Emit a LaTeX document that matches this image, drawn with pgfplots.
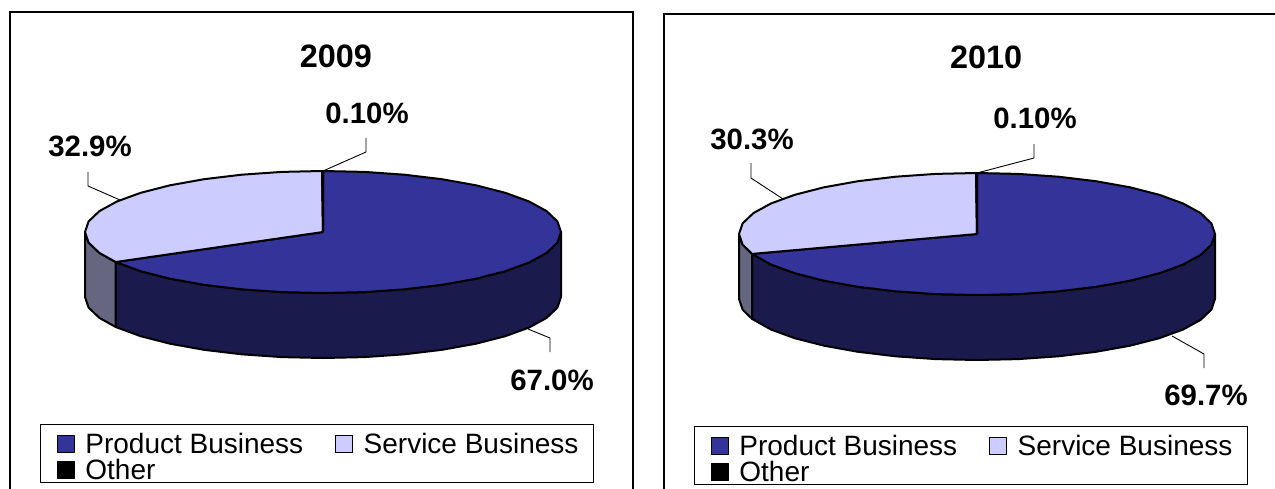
\documentclass[border=0pt]{standalone}
\usepackage{fontspec}
\setmainfont{Liberation Sans}
\usepackage{pgfplots}
\pgfplotsset{compat=1.18}
\definecolor{prod}{HTML}{333399}
\definecolor{serv}{HTML}{CCCCFF}
\definecolor{proddark}{HTML}{1A1A4D}
\definecolor{servdark}{HTML}{666680}
\pgfplotsset{
  pie panel/.style={
    scale only axis, clip=false, y dir=reverse,
    xtick=\empty, ytick=\empty,
    axis line style={black, line width=0.6pt},
    anchor=south west,
    title style={at={(0.523,0.883)}, anchor=center, font=\fontsize{16.2}{16}\selectfont\bfseries},
    legend columns=2,
    legend cell align=left,
    legend style={
      anchor=north west, draw=black, line width=0.5pt,
      inner xsep=7.75pt, inner ysep=1.3pt,
      font=\fontsize{14}{12.5}\selectfont,
      nodes={inner xsep=0pt, inner ysep=0pt, text height=13.2pt, text depth=0pt},
      /tikz/every even column/.append style={column sep=15.5pt},
    },
    legend image code/.code={
      \path (0pt,0pt) (13.7pt,0pt);
      \draw[##1, line width=0.5pt] (0pt,-6.1pt) rectangle (8.7pt,2.6pt);
    },
  },
  slice/.style={draw=black, line width=1pt, line join=round},
  leader/.style={draw=black, line width=0.45pt, forget plot},
}
\newcommand{\lab}{\fontsize{14.7}{15}\selectfont\bfseries}
\begin{document}
\begin{tikzpicture}
\useasboundingbox (0,0) rectangle (637.5pt,244pt);

% 2009
\begin{axis}[pie panel, at={(5pt,-1pt)}, width=311.5pt, height=239pt,
  xmin=-313, xmax=310, ymin=-220, ymax=258, title={2009},
  legend style={at={(axis cs:-283,192)}}]
\addplot[slice, fill=proddark, forget plot] coordinates {
  (238,0) (234.4,10.6) (223.6,20.9) (206.1,30.5) (182.3,39.2) (153,46.7) (119,52.8) (81.4,57.3) (41.3,60.1) (0,61)
  (-41.3,60.1) (-81.4,57.3) (-119,52.8) (-153,46.7) (-182.3,39.2) (-207.3,30)
  (-207.3,95) (-182.3,104.2) (-153,111.7) (-119,117.8) (-81.4,122.3) (-41.3,125.1) (0,126)
  (41.3,125.1) (81.4,122.3) (119,117.8) (153,111.7) (182.3,104.2) (206.1,95.5) (223.6,85.9) (234.4,75.6) (238,65) (238,0)};
\addplot[slice, fill=servdark, forget plot] coordinates {
  (-207.3,30) (-223.6,20.9) (-234.4,10.6) (-238,0) (-238,65) (-234.4,75.6) (-223.6,85.9) (-207.3,95) (-207.3,30)};
\addplot[slice, fill=prod] coordinates {
  (0,0) (0,-61) (41.3,-60.1) (81.4,-57.3) (119,-52.8) (153,-46.7) (182.3,-39.2) (206.1,-30.5) (223.6,-20.9) (234.4,-10.6) (238,0)
  (234.4,10.6) (223.6,20.9) (206.1,30.5) (182.3,39.2) (153,46.7) (119,52.8) (81.4,57.3) (41.3,60.1) (0,61)
  (-41.3,60.1) (-81.4,57.3) (-119,52.8) (-153,46.7) (-182.3,39.2) (-207.3,30) (0,0)};
\addplot[slice, fill=serv] coordinates {
  (0,0) (-207.3,30) (-223.6,20.9) (-234.4,10.6) (-238,0) (-234.4,-10.6) (-223.6,-20.9) (-206.1,-30.5) (-182.3,-39.2)
  (-153,-46.7) (-119,-52.8) (-81.4,-57.3) (-41.3,-60.1) (-1,-61) (0,0)};
\addplot[slice, fill=black] coordinates {(0,0) (-1,-61) (0,-61) (0,0)};
\addplot[leader] coordinates {(0,-61) (43,-80) (43,-94)};
\addplot[leader] coordinates {(-203,-32) (-235,-46) (-235,-60)};
\addplot[leader] coordinates {(205,97) (227,106) (227,120)};
\node[font=\lab] at (axis cs:44,-119) {0.10\%};
\node[font=\lab] at (axis cs:-233,-86) {32.9\%};
\node[font=\lab] at (axis cs:229,148) {67.0\%};
\legend{Product Business, Service Business, Other}
\end{axis}

% 2010
\begin{axis}[pie panel, at={(332pt,-1pt)}, width=308pt, height=238pt,
  xmin=-313, xmax=303, ymin=-220, ymax=256, title={2010},
  legend style={at={(axis cs:-283,192)}}]
\addplot[slice, fill=proddark, forget plot] coordinates {
  (238,0) (234.4,10.6) (223.6,20.9) (206.1,30.5) (182.3,39.2) (153,46.7) (119,52.8) (81.4,57.3) (41.3,60.1) (0,61)
  (-41.3,60.1) (-81.4,57.3) (-119,52.8) (-153,46.7) (-182.3,39.2) (-206.1,30.5) (-224.9,19.9)
  (-224.9,84.9) (-206.1,95.5) (-182.3,104.2) (-153,111.7) (-119,117.8) (-81.4,122.3) (-41.3,125.1) (0,126)
  (41.3,125.1) (81.4,122.3) (119,117.8) (153,111.7) (182.3,104.2) (206.1,95.5) (223.6,85.9) (234.4,75.6) (238,65) (238,0)};
\addplot[slice, fill=servdark, forget plot] coordinates {
  (-224.9,19.9) (-234.4,10.6) (-238,0) (-238,65) (-234.4,75.6) (-224.9,84.9) (-224.9,19.9)};
\addplot[slice, fill=prod] coordinates {
  (0,0) (0,-61) (41.3,-60.1) (81.4,-57.3) (119,-52.8) (153,-46.7) (182.3,-39.2) (206.1,-30.5) (223.6,-20.9) (234.4,-10.6) (238,0)
  (234.4,10.6) (223.6,20.9) (206.1,30.5) (182.3,39.2) (153,46.7) (119,52.8) (81.4,57.3) (41.3,60.1) (0,61)
  (-41.3,60.1) (-81.4,57.3) (-119,52.8) (-153,46.7) (-182.3,39.2) (-206.1,30.5) (-224.9,19.9) (0,0)};
\addplot[slice, fill=serv] coordinates {
  (0,0) (-224.9,19.9) (-234.4,10.6) (-238,0) (-234.4,-10.6) (-223.6,-20.9) (-206.1,-30.5) (-182.3,-39.2)
  (-153,-46.7) (-119,-52.8) (-81.4,-57.3) (-41.3,-60.1) (-1,-61) (0,0)};
\addplot[slice, fill=black] coordinates {(0,0) (-1,-61) (0,-61) (0,0)};
\addplot[leader] coordinates {(0,-61) (57,-76) (57,-90)};
\addplot[leader] coordinates {(-194,-35) (-226,-56) (-226,-71)};
\addplot[leader] coordinates {(195,102) (227,120) (227,134)};
\node[font=\lab] at (axis cs:58,-116) {0.10\%};
\node[font=\lab] at (axis cs:-225,-95) {30.3\%};
\node[font=\lab] at (axis cs:229,161) {69.7\%};
\legend{Product Business, Service Business, Other}
\end{axis}
\end{tikzpicture}
\end{document}
